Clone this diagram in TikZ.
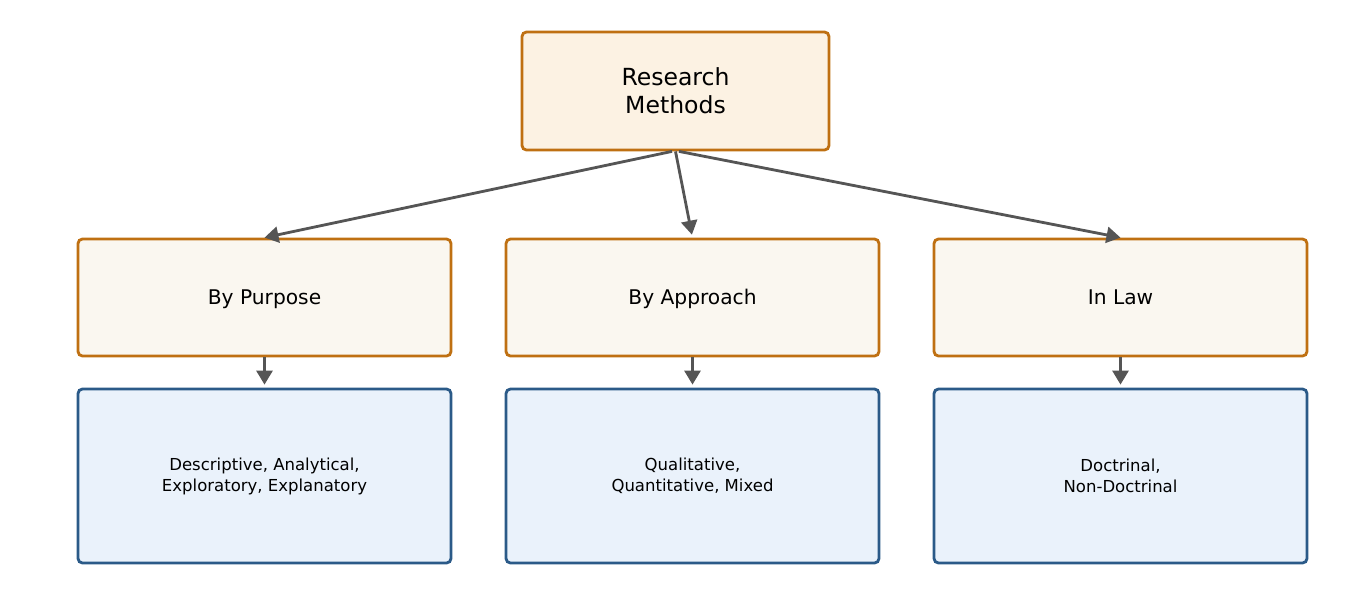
\documentclass[tikz,border=0pt]{standalone}
\usepackage{fontspec}
\setmainfont{DejaVu Sans}
\usepackage{xcolor}
\usetikzlibrary{arrows.meta}
\definecolor{rmorange}{HTML}{BF7012}
\definecolor{rmblue}{HTML}{2B5A88}
\definecolor{rmtop}{HTML}{FCF2E3}
\definecolor{rmmid}{HTML}{FAF7F0}
\definecolor{rmlow}{HTML}{EAF2FB}
\definecolor{rmgray}{HTML}{555555}

\begin{document}
\begin{tikzpicture}[x=0.02cm,y=-0.02cm,
  b/.style={rectangle,rounded corners=2.5pt,draw,line width=1.6pt,align=center,inner sep=0pt},
  hd/.style={b,draw=rmorange,fill=rmtop,minimum width=6.14cm,minimum height=2.36cm,
    font=\fontsize{13.4}{15.9}\selectfont},
  cat/.style={b,draw=rmorange,fill=rmmid,minimum width=7.46cm,minimum height=2.34cm,
    text height=0.9em,text depth=0.1em,font=\fontsize{11.5}{13.5}\selectfont},
  ex/.style={b,draw=rmblue,fill=rmlow,minimum width=7.46cm,minimum height=3.48cm,
    font=\fontsize{9.4}{11.9}\selectfont},
  ar/.style={-{Triangle[length=2.8mm,width=3.2mm]},line width=1.6pt,rmgray}]
  \useasboundingbox (0,0) rectangle (1351,596);
  \node[hd] (rm) at (675.5,91) {Research\\Methods};
  \node[cat] (pur) at (264.5,297.5) {By Purpose};
  \node[cat] (app) at (692.5,297.5) {By Approach};
  \node[cat] (law) at (1120.5,297.5) {In Law};
  \node[ex] (purex) at (264.5,476) {Descriptive, Analytical,\\Exploratory, Explanatory};
  \node[ex] (appex) at (692.5,476) {Qualitative,\\Quantitative, Mixed};
  \node[ex] (lawex) at (1120.5,476) {Doctrinal,\\Non-Doctrinal};
  \draw[ar] ([xshift=-0.07cm]rm.south) -- (pur.north);
  \draw[ar,shorten >=0.06cm] (rm.south) -- (app.north);
  \draw[ar] ([xshift=0.07cm]rm.south) -- (law.north);
  \draw[ar,shorten >=0.06cm] (pur) -- (purex);
  \draw[ar,shorten >=0.06cm] (app) -- (appex);
  \draw[ar,shorten >=0.06cm] (law) -- (lawex);
\end{tikzpicture}
\end{document}
